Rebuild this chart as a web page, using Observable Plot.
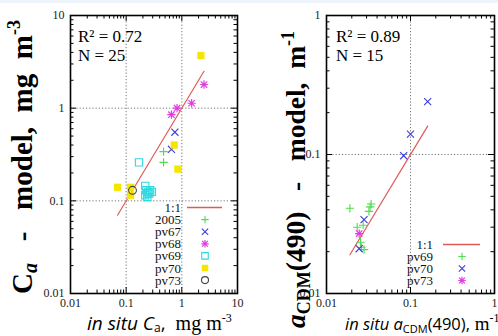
<!DOCTYPE html>
<html><head><meta charset="utf-8">
<script src="https://cdn.jsdelivr.net/npm/d3@7"></script>
<script src="https://cdn.jsdelivr.net/npm/@observablehq/plot@0.6"></script>
<style>
html,body{margin:0;padding:0;background:#fff;}
#wrap{position:relative;width:498px;height:336px;overflow:hidden;background:#fff;}
#band{position:absolute;left:0;top:0;width:498px;height:3px;background:#eef4fc;}
#p1,#p2{position:absolute;top:0;}
#p1{left:0;} #p2{left:250px;}
#ov{position:absolute;left:0;top:0;}
</style></head>
<body><div id="wrap"><div id="band"></div><div id="p1"></div><div id="p2"></div>
<svg id="ov" width="498" height="336"></svg></div>
<script>
// ---------- data: left panel (Ca) ----------
const ticks1 = [0.01, 0.1, 1, 10];
const x2005 = [0.47, 0.47];
const y2005 = [0.34, 0.26];
const xpv67 = [0.75, 0.65];
const ypv67 = [0.55, 0.36];
const xpv68 = [2.5, 1.5, 0.82, 0.65];
const ypv68 = [1.8, 1.13, 1.0, 0.85];
const xpv69 = [0.17, 0.22, 0.23, 0.24, 0.25, 0.22, 0.26, 0.29, 0.24, 0.27];
const ypv69 = [0.26, 0.145, 0.13, 0.12, 0.125, 0.115, 0.12, 0.125, 0.11, 0.13];
const xpv70 = [2.2, 0.73, 0.85, 0.07, 0.12, 0.12];
const ypv70 = [3.7, 0.40, 0.22, 0.14, 0.14, 0.115];
const xpv73 = [0.13];
const ypv73 = [0.13];
const line1 = [0.07, 2.5];
const r2Text1 = "R² = 0.72", nText1 = "N = 25";

// ---------- data: right panel (aCDM) ----------
const ticks2 = [0.01, 0.1, 1];
const xpv69b = [0.019, 0.034, 0.033, 0.032, 0.0232, 0.0273, 0.0254, 0.028, 0.026];
const ypv69b = [0.041, 0.044, 0.042, 0.039, 0.030, 0.031, 0.0234, 0.0207, 0.0215];
const xpv70b = [0.16, 0.10, 0.083, 0.028, 0.0245];
const ypv70b = [0.24, 0.14, 0.098, 0.034, 0.021];
const xpv73b = [0.0245];
const ypv73b = [0.027];
const line2 = [0.019, 0.16];
const r2Text2 = "R² = 0.89", nText2 = "N = 15";

const legend1 = ["2005", "pv67", "pv68", "pv69", "pv70", "pv73"];
const legend2 = ["pv69", "pv70", "pv73"];

// styles
const STY = {
  "2005": {sym: "plus", stroke: "#4fdc4f", fill: "none"},
  "pv67": {sym: "times", stroke: "#3d3dd8", fill: "none"},
  "pv68": {sym: "star8", stroke: "#e03ce0", fill: "none"},
  "pv69": {sym: "square", stroke: "#2ed8e0", fill: "none"},
  "pv70": {sym: "square", stroke: "none", fill: "#f5e600"},
  "pv73": {sym: "circle", stroke: "#444", fill: "none"}
};
const STY2 = Object.assign({}, STY, {
  "pv69": {sym: "plus", stroke: "#4fdc4f", fill: "none"},
  "pv70": {sym: "times", stroke: "#3d3dd8", fill: "none"},
  "pv73": {sym: "star8", stroke: "#e03ce0", fill: "none"}
});
const RED = "#e05a5a";
const RSYM = {plus: 2.8, times: 3.3, square: 4.1, circle: 3.9};

function rows(xs, ys){ return xs.map((x,i)=>({x, y: ys[i]})); }

function seriesMarks(data, st){
  const base = {x: "x", y: "y"};
  if (st.sym === "star8") {
    return [
      Plot.dot(data, {...base, symbol: "plus", r: 2.8, stroke: st.stroke, strokeWidth: 1.2}),
      Plot.dot(data, {...base, symbol: "times", r: 3.0, stroke: st.stroke, strokeWidth: 1.2}),
      Plot.dot(data, {...base, symbol: "square", r: 1.6, fill: st.stroke, fillOpacity: 0.7, stroke: "none"})
    ];
  }
  return [Plot.dot(data, {...base, symbol: st.sym, r: RSYM[st.sym], stroke: st.stroke, fill: st.fill, strokeWidth: 1.1})];
}

function panel(el, {w, h, ml, mr, mt, mb, domain, tickVals, grid, series, line, sty}){
  const iw = w - ml - mr, ih = h - mt - mb;
  const majors = [], minors = [];
  const e0 = Math.round(Math.log10(domain[0])), e1 = Math.round(Math.log10(domain[1]));
  for (let e = e0; e < e1; e++) for (let k = 1; k < 10; k++) {
    const v = +(k * Math.pow(10, e)).toPrecision(6);
    (k === 1 ? majors : minors).push(v);
  }
  majors.push(domain[1]);
  const MJ = 6, MN = 3.5;
  const tk = {stroke: "#000", strokeWidth: 1};
  const marks = [
    Plot.ruleX(grid, {x: d => d, stroke: "#666", strokeWidth: 0.9, strokeDasharray: "1.2,2"}),
    Plot.ruleY(grid, {y: d => d, stroke: "#666", strokeWidth: 0.9, strokeDasharray: "1.2,2"}),
    Plot.tickX(minors, {x: d => d, insetTop: ih - MN, ...tk}),
    Plot.tickX(minors, {x: d => d, insetBottom: ih - MN, ...tk}),
    Plot.tickX(majors, {x: d => d, insetTop: ih - MJ, ...tk}),
    Plot.tickX(majors, {x: d => d, insetBottom: ih - MJ, ...tk}),
    Plot.tickY(minors, {y: d => d, insetRight: iw - MN, ...tk}),
    Plot.tickY(minors, {y: d => d, insetLeft: iw - MN, ...tk}),
    Plot.tickY(majors, {y: d => d, insetRight: iw - MJ, ...tk}),
    Plot.tickY(majors, {y: d => d, insetLeft: iw - MJ, ...tk}),
    Plot.axisX({ticks: tickVals, tickFormat: d => String(d), tickSize: 0, tickPadding: 5, label: null, fill: "#222", fontSize: 12}),
    Plot.axisY({ticks: tickVals, tickFormat: d => String(d), tickSize: 0, tickPadding: 6, label: null, fill: "#222", fontSize: 12}),
    Plot.line(line, {x: d => d, y: d => d, stroke: RED, strokeWidth: 1.2})
  ];
  for (const [name, data] of series) marks.push(...seriesMarks(data, sty[name]));
  marks.push(Plot.frame({stroke: "#000", strokeWidth: 1.6}));
  const chart = Plot.plot({
    width: w, height: h, marginLeft: ml, marginRight: mr, marginTop: mt, marginBottom: mb,
    x: {type: "log", domain}, y: {type: "log", domain},
    style: {fontFamily: "'Liberation Serif', 'Times New Roman', serif", fontSize: "12px", background: "transparent", overflow: "visible"},
    marks
  });
  el.appendChild(chart);
}

panel(document.getElementById("p1"), {
  w: 245, h: 336, ml: 70, mr: 8, mt: 15, mb: 43, domain: [0.01, 10], tickVals: ticks1, grid: [0.1, 1],
  line: line1, sty: STY,
  series: [["2005", rows(x2005, y2005)], ["pv67", rows(xpv67, ypv67)], ["pv68", rows(xpv68, ypv68)],
           ["pv69", rows(xpv69, ypv69)], ["pv70", rows(xpv70, ypv70)], ["pv73", rows(xpv73, ypv73)]]
});
panel(document.getElementById("p2"), {
  w: 248, h: 336, ml: 76, mr: 4, mt: 15, mb: 43, domain: [0.01, 1], tickVals: ticks2, grid: [0.1],
  line: line2, sty: STY2,
  series: [["pv69", rows(xpv69b, ypv69b)], ["pv70", rows(xpv70b, ypv70b)], ["pv73", rows(xpv73b, ypv73b)]]
});

// ---------- overlay: labels and legends ----------
const ov = d3.select("#ov");
const SERIF = "'Liberation Serif', 'Times New Roman', serif";
const SANS = "'Open Sans', 'DejaVu Sans', sans-serif";

function statText(x, r2, n){
  ov.append("text").attr("x", x).attr("y", 42).attr("font-family", SERIF).attr("font-size", 17).text(r2);
  ov.append("text").attr("x", x).attr("y", 61).attr("font-family", SERIF).attr("font-size", 17).text(n);
}
statText(78, r2Text1, nText1);
statText(336, r2Text2, nText2);

// y label left
{
  const t = ov.append("text").attr("transform", "translate(32,294) rotate(-90)")
    .attr("font-family", SERIF).attr("font-weight", "bold").attr("font-size", 29).style("white-space", "pre");
  t.append("tspan").text("C");
  t.append("tspan").attr("font-style", "italic").attr("font-size", 20).attr("dy", 5).text("a");
  t.append("tspan").attr("dy", -5).text("   -   model,  mg  m");
  t.append("tspan").attr("font-size", 18).attr("dy", -12).text("-3");
}
// y label right
{
  const t = ov.append("text").attr("transform", "translate(305,328) rotate(-90)")
    .attr("font-family", SERIF).attr("font-weight", "bold").attr("font-size", 27.5).style("white-space", "pre");
  t.append("tspan").attr("font-style", "italic").text("a");
  t.append("tspan").attr("font-size", 18).attr("dy", 5).text("CDM");
  t.append("tspan").attr("dy", -5).text("(490)   -   model,  m");
  t.append("tspan").attr("font-size", 18).attr("dy", -11).text("-1");
}
// x label left
{
  const t = ov.append("text").attr("x", 87).attr("y", 329.5).attr("font-size", 19).style("white-space", "pre");
  t.append("tspan").attr("font-family", SANS).attr("font-style", "italic").text("in situ C");
  t.append("tspan").attr("font-family", SANS).attr("font-size", 12).attr("dy", 2.5).text("a");
  t.append("tspan").attr("font-family", SANS).attr("dy", -2.5).text(",");
  t.append("tspan").attr("font-family", SERIF).attr("font-size", 20).text("  mg m");
  t.append("tspan").attr("font-family", SERIF).attr("font-size", 12).attr("dy", -8).text("-3");
}
// x label right
{
  const t = ov.append("text").attr("x", 345).attr("y", 330).attr("font-size", 16.5).style("white-space", "pre");
  t.append("tspan").attr("font-family", SANS).attr("font-style", "italic").text("in situ a");
  t.append("tspan").attr("font-family", SANS).attr("font-size", 11).attr("dy", 2.5).text("CDM");
  t.append("tspan").attr("font-family", SANS).attr("dy", -2.5).text("(490),");
  t.append("tspan").attr("font-family", SERIF).attr("font-size", 19).text(" m");
  t.append("tspan").attr("font-family", SERIF).attr("font-size", 12).attr("dy", -8).text("-1");
}

function drawSym(g, st, cx, cy, k){
  const sym = (name, r) => d3.symbol(
    {plus: d3.symbolPlus, times: d3.symbolTimes, square: d3.symbolSquare, circle: d3.symbolCircle}[name], Math.PI * r * r)();
  const tr = `translate(${cx},${cy})`;
  if (st.sym === "star8") {
    g.append("path").attr("transform", tr).attr("d", sym("plus", 2.8 * k)).attr("fill", "none").attr("stroke", st.stroke).attr("stroke-width", 1.2);
    g.append("path").attr("transform", tr).attr("d", sym("times", 3.0 * k)).attr("fill", "none").attr("stroke", st.stroke).attr("stroke-width", 1.2);
    g.append("path").attr("transform", tr).attr("d", sym("square", 1.6 * k)).attr("fill", st.stroke).attr("fill-opacity", 0.7);
  } else {
    g.append("path").attr("transform", tr).attr("d", sym(st.sym, RSYM[st.sym] * k))
      .attr("fill", st.fill).attr("stroke", st.stroke).attr("stroke-width", 1.1);
  }
}

function legend(names, sty, textX, symX, lineX1, lineX2, y0, dy){
  const g = ov.append("g");
  const all = ["1:1", ...names];
  all.forEach((nm, i) => {
    const y = y0 + i * dy;
    g.append("text").attr("x", textX).attr("y", y).attr("dy", "0.35em").attr("text-anchor", "end")
      .attr("font-family", SERIF).attr("font-size", 13).attr("fill", "#111").text(nm);
    if (i === 0) g.append("line").attr("x1", lineX1).attr("x2", lineX2).attr("y1", y).attr("y2", y).attr("stroke", RED).attr("stroke-width", 1.3);
    else drawSym(g, sty[nm], symX, y, 0.9);
  });
}
legend(legend1, STY, 181, 205, 187, 222, 207.5, 12.1);
legend(legend2, STY2, 433, 462, 443, 480, 244.5, 12);
</script></body></html>
